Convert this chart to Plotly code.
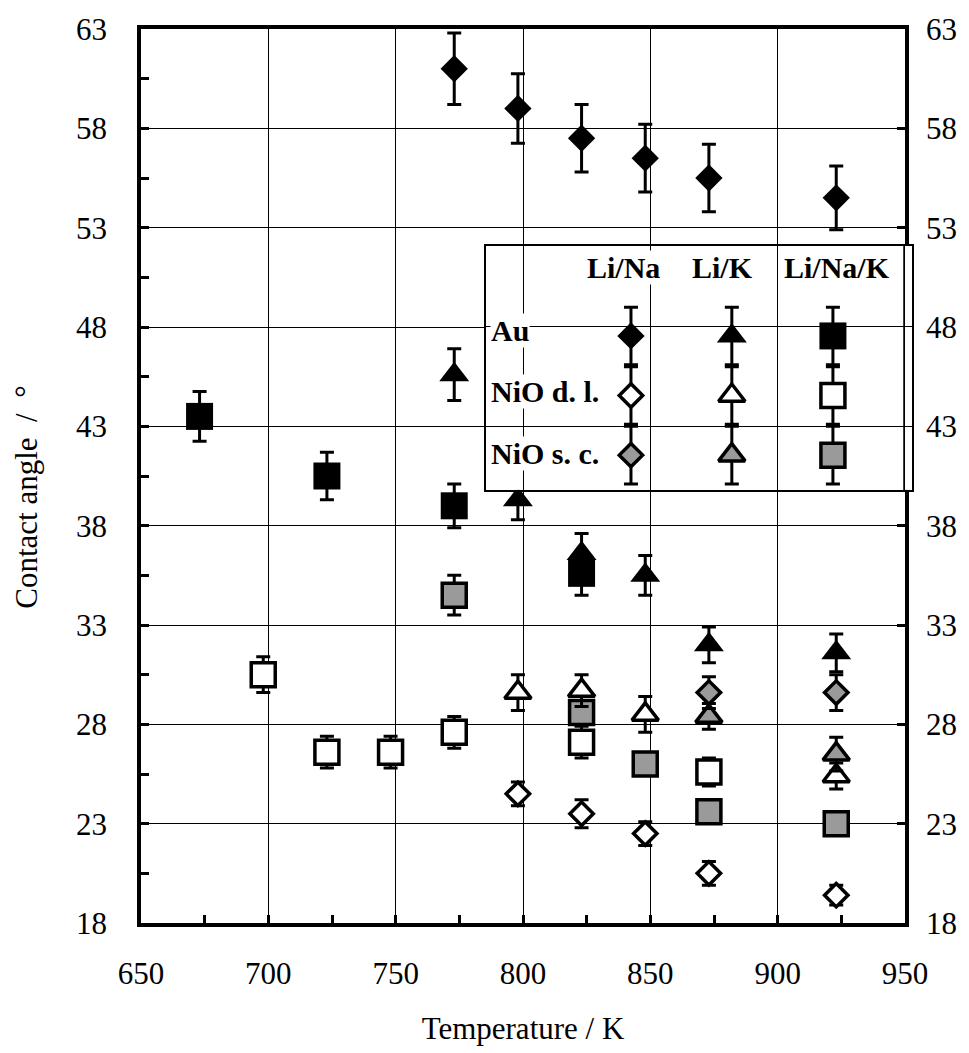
import plotly.graph_objects as go

# ---------------- data: temperature (K), contact angle (deg), error (deg) ----------------
# Au substrate
t_au_lina = [773, 798, 823, 848, 873, 923]
a_au_lina = [61.0, 59.0, 57.5, 56.5, 55.5, 54.5]
e_au_lina = [1.8, 1.75, 1.7, 1.7, 1.7, 1.6]

t_au_lik = [773, 798, 823, 848, 873, 923]
a_au_lik = [45.6, 39.3, 36.6, 35.5, 32.0, 31.6]
e_au_lik = [1.3, 1.0, 1.0, 1.0, 0.9, 0.95]

t_au_linak = [673, 723, 773, 823]
a_au_linak = [43.5, 40.5, 39.0, 35.6]
e_au_linak = [1.25, 1.2, 1.1, 1.1]

# NiO dense layer
t_dl_lina = [798, 823, 848, 873, 923]
a_dl_lina = [24.5, 23.5, 22.5, 20.5, 19.4]
e_dl_lina = [0.6, 0.7, 0.6, 0.6, 0.5]

t_dl_lik = [798, 823, 848, 923]
a_dl_lik = [29.6, 29.7, 28.5, 25.4]
e_dl_lik = [0.9, 0.8, 0.9, 0.65]

t_dl_linak = [698, 723, 748, 773, 823, 873]
a_dl_linak = [30.5, 26.6, 26.6, 27.6, 27.1, 25.6]
e_dl_linak = [0.9, 0.8, 0.8, 0.8, 0.8, 0.7]

# NiO single crystal
t_sc_lina = [873, 923]
a_sc_lina = [29.6, 29.6]
e_sc_lina = [0.8, 0.9]

t_sc_lik = [873, 923]
a_sc_lik = [28.4, 26.5]
e_sc_lik = [0.65, 0.85]

t_sc_linak = [773, 823, 848, 873, 923]
a_sc_linak = [34.5, 28.6, 26.0, 23.6, 23.0]
e_sc_linak = [1.0, 0.5, 0.5, 0.5, 0.4]

x_ticks = [650, 700, 750, 800, 850, 900, 950]
y_ticks = [18, 23, 28, 33, 38, 43, 48, 53, 58, 63]

legend_cols = ["Li/Na", "Li/K", "Li/Na/K"]
legend_rows = ["Au", "NiO d. l.", "NiO s. c."]

# ---------------- styles ----------------
FONT = "Liberation Serif"
GRAY = "#9a9a9a"
LW = 3.5


def mk(symbol, fill, size, lw):
    return dict(symbol=symbol, size=size, color=fill,
                line=dict(width=lw, color="black"))


STYLE = {
    ("Au", "Li/Na"): mk("diamond", "black", 21, 0),
    ("Au", "Li/K"): mk("triangle-up", "black", 26, 0),
    ("Au", "Li/Na/K"): mk("square", "black", 27, 0),
    ("NiO d. l.", "Li/Na"): mk("diamond", "white", 18, LW),
    ("NiO d. l.", "Li/K"): mk("triangle-up", "white", 23, LW),
    ("NiO d. l.", "Li/Na/K"): mk("square", "white", 24, LW),
    ("NiO s. c.", "Li/Na"): mk("diamond", GRAY, 18, LW),
    ("NiO s. c.", "Li/K"): mk("triangle-up", GRAY, 23, LW),
    ("NiO s. c.", "Li/Na/K"): mk("square", GRAY, 24, LW),
}

SERIES = [
    (("Au", "Li/Na/K"), t_au_linak, a_au_linak, e_au_linak),
    (("NiO d. l.", "Li/Na/K"), t_dl_linak, a_dl_linak, e_dl_linak),
    (("NiO s. c.", "Li/Na/K"), t_sc_linak, a_sc_linak, e_sc_linak),
    (("Au", "Li/Na"), t_au_lina, a_au_lina, e_au_lina),
    (("NiO d. l.", "Li/Na"), t_dl_lina, a_dl_lina, e_dl_lina),
    (("NiO d. l.", "Li/K"), t_dl_lik, a_dl_lik, e_dl_lik),
    (("Au", "Li/K"), t_au_lik, a_au_lik, e_au_lik),
    (("NiO s. c.", "Li/K"), t_sc_lik, a_sc_lik, e_sc_lik),
    (("NiO s. c.", "Li/Na"), t_sc_lina, a_sc_lina, e_sc_lina),
]

fig = go.Figure()


def add_points(x, y, err, marker, xa="x", ya="y"):
    fig.add_trace(go.Scatter(
        x=x, y=y, mode="markers", marker=marker,
        error_y=dict(type="data", array=err, visible=True, color="black",
                     thickness=3, width=7),
        xaxis=xa, yaxis=ya, showlegend=False, hoverinfo="skip"))


for key, t, a, e in SERIES:
    add_points(t, a, e, STYLE[key])

# empty trace so the right-hand angle axis gets drawn
fig.add_trace(go.Scatter(x=[], y=[], xaxis="x", yaxis="y3",
                         showlegend=False, hoverinfo="skip"))

# ---------------- key table (inset subplot sharing the data scales) ----------------
X_MIN, X_MAX = 650, 950
Y_MIN, Y_MAX = 18, 63
KEY_X = [785.5, 952.75]
KEY_Y = [39.8, 52.1]
key_col_x = [842.4, 882.0, 921.7]
key_row_y = [47.55, 44.55, 41.55]
key_err = 1.45

for r, row in enumerate(legend_rows):
    for c, col in enumerate(legend_cols):
        add_points([key_col_x[c]], [key_row_y[r]], [key_err], STYLE[(row, col)],
                   xa="x2", ya="y2")

head_x = [839.3, 878.2, 923.3]
head_y = 51.0
row_label_x = 787.0
row_label_y = [47.8, 44.75, 41.65]

KEY_FONT = dict(family=FONT, size=30, color="black", weight="bold")
annotations = []
for c, col in enumerate(legend_cols):
    annotations.append(dict(x=head_x[c], y=head_y, xref="x2", yref="y2", text=col,
                            showarrow=False, xanchor="center", yanchor="middle",
                            bgcolor="white", borderpad=0, font=KEY_FONT))
for r, row in enumerate(legend_rows):
    annotations.append(dict(x=row_label_x, y=row_label_y[r], xref="x2", yref="y2", text=row,
                            showarrow=False, xanchor="left", yanchor="middle",
                            bgcolor="white", borderpad=0, font=KEY_FONT))

# y-axis title
annotations.append(dict(x=-0.148, y=0.4767, xref="paper", yref="paper",
                        text="Contact angle  /  °", textangle=-90, showarrow=False,
                        xanchor="center", yanchor="middle",
                        font=dict(family=FONT, size=31, color="black")))

# ---------------- layout ----------------
W, H = 969, 1053
ML, MR, MT, MB = 141, 57, 28, 125
x_dom_end = (X_MAX - X_MIN) / (KEY_X[1] - X_MIN)
key_dom_x = [(KEY_X[0] - X_MIN) / (KEY_X[1] - X_MIN), 1.0]
key_dom_y = [(KEY_Y[0] - Y_MIN) / (Y_MAX - Y_MIN), (KEY_Y[1] - Y_MIN) / (Y_MAX - Y_MIN)]

tick_font = dict(family=FONT, size=31, color="black")
common = dict(showgrid=True, gridcolor="black", gridwidth=1.3, zeroline=False,
              showline=True, linecolor="black", linewidth=3.5, mirror=True,
              ticks="inside", ticklen=8, tickwidth=3, tickcolor="black",
              tickfont=tick_font)

fig.update_layout(
    width=W, height=H,
    margin=dict(l=ML, r=MR, t=MT, b=MB),
    paper_bgcolor="white", plot_bgcolor="white",
    font=dict(family=FONT, color="black"),
    xaxis=dict(domain=[0, x_dom_end], range=[X_MIN, X_MAX],
               tickmode="array", tickvals=x_ticks, ticktext=[str(v) for v in x_ticks],
               minor=dict(ticks="inside", dtick=25, tick0=650, ticklen=8,
                          tickwidth=3, tickcolor="black", showgrid=False),
               ticklabelstandoff=20,
               title=dict(text="Temperature / K", standoff=28,
                          font=dict(family=FONT, size=31, color="black")),
               **common),
    yaxis=dict(range=[Y_MIN, Y_MAX],
               tickmode="array", tickvals=y_ticks, ticktext=[str(v) for v in y_ticks],
               minor=dict(ticks="inside", dtick=2.5, tick0=18, ticklen=8,
                          tickwidth=3, tickcolor="black", showgrid=False),
               ticklabelstandoff=24,
               **common),
    yaxis3=dict(overlaying="y", side="right", anchor="x", range=[Y_MIN, Y_MAX],
                tickmode="array", tickvals=y_ticks, ticktext=[str(v) for v in y_ticks],
                showgrid=False, zeroline=False, showline=False,
                ticks="inside", ticklen=8, tickwidth=3, tickcolor="black",
                ticklabelstandoff=20, tickfont=tick_font),
    xaxis2=dict(domain=key_dom_x, range=KEY_X, anchor="y2",
                tickmode="linear", tick0=650, dtick=50, showticklabels=False, ticks="",
                showgrid=True, gridcolor="black", gridwidth=1.3, zeroline=False,
                showline=True, linecolor="black", linewidth=2, mirror=True),
    yaxis2=dict(domain=key_dom_y, range=KEY_Y, anchor="x2",
                tickmode="linear", tick0=18, dtick=5, showticklabels=False, ticks="",
                showgrid=True, gridcolor="black", gridwidth=1.3, zeroline=False,
                showline=True, linecolor="black", linewidth=2, mirror=True),
    annotations=annotations,
    shapes=[dict(type="line", xref="x", yref="y", x0=X_MAX, x1=X_MAX,
                 y0=KEY_Y[0], y1=KEY_Y[1], layer="above",
                 line=dict(color="black", width=3.5))],
)

fig.write_html("out.html")
